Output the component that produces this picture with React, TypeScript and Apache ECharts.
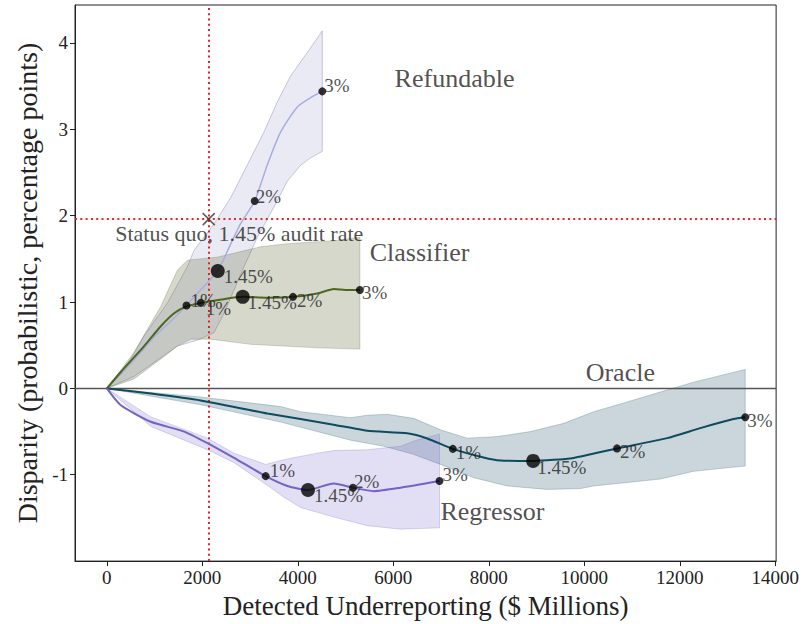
import React, { useEffect, useRef } from "react";
import * as echarts from "echarts";

// ---- data ----
const xTicks = [0, 2000, 4000, 6000, 8000, 10000, 12000, 14000];
const yTicks = [-1, 0, 1, 2, 3, 4];
const pointLabels = ["1%", "1.45%", "2%", "3%"];
const seriesNames = ["Refundable", "Classifier", "Oracle", "Regressor"];

const refundableLine = [[0, 0], [300, 0.17], [600, 0.35], [1000, 0.6], [1400, 0.81], [1668, 0.96], [2000, 1.16], [2323, 1.36], [2600, 1.68], [2804, 1.91], [3097, 2.17], [3362, 2.59], [3641, 2.97], [3990, 3.26], [4338, 3.39], [4513, 3.44]];
const refundableUpper = [[0, 0], [500, 0.34], [781, 0.61], [1270, 0.99], [1688, 1.41], [1827, 1.6], [2245, 1.905], [2595, 2.21], [2944, 2.59], [3292, 2.97], [3572, 3.32], [3850, 3.62], [4198, 3.89], [4513, 4.14]];
const refundableLower = [[0, 0], [571, 0.14], [990, 0.3], [1478, 0.49], [1900, 0.56], [2245, 0.645], [2455, 0.87], [2664, 1.14], [2874, 1.41], [3153, 1.75], [3501, 2.1], [3781, 2.4], [4050, 2.58], [4268, 2.67], [4513, 2.745]];
const refundablePoints = [[1668, 0.96], [2323, 1.36], [3097, 2.17], [4513, 3.44]];

const classifierLine = [[0, 0], [293, 0.19], [781, 0.49], [1130, 0.72], [1409, 0.87], [1668, 0.95], [1967, 0.99], [2400, 1.03], [2846, 1.06], [3362, 1.05], [3899, 1.06], [4408, 1.1], [4757, 1.15], [5000, 1.14], [5300, 1.14]];
const classifierUpper = [[0, 0], [571, 0.42], [1130, 0.95], [1478, 1.37], [1688, 1.485], [2316, 1.52], [3222, 1.64], [3781, 1.676], [4757, 1.71], [5300, 1.75]];
const classifierLower = [[0, 0], [571, 0.11], [1130, 0.34], [1478, 0.49], [1758, 0.57], [2176, 0.57], [3013, 0.51], [3711, 0.49], [4408, 0.47], [5300, 0.455]];
const classifierPoints = [[1967, 0.99], [2846, 1.06], [3899, 1.06], [5300, 1.14]];

const oracleLine = [[0, 0], [921, -0.06], [1967, -0.14], [3362, -0.29], [4750, -0.42], [5455, -0.49], [6292, -0.52], [6711, -0.58], [7247, -0.7], [7889, -0.8], [8244, -0.835], [8929, -0.84], [9778, -0.805], [10686, -0.695], [11733, -0.576], [12430, -0.46], [13126, -0.355], [13371, -0.335]];
const oracleUpper = [[0, 0], [1967, -0.1], [3641, -0.21], [4059, -0.27], [5106, -0.34], [5455, -0.31], [5873, -0.3], [6431, -0.347], [6989, -0.48], [7547, -0.576], [8175, -0.558], [8872, -0.5], [9569, -0.405], [10197, -0.27], [10895, -0.157], [11592, -0.042], [12290, 0.072], [12988, 0.168], [13371, 0.22]];
const oracleLower = [[0, 0], [1967, -0.19], [3641, -0.39], [5106, -0.6], [5803, -0.67], [6400, -0.76], [6989, -0.88], [7686, -1.034], [8384, -1.13], [9221, -1.17], [9918, -1.16], [10197, -1.13], [10895, -1.09], [11592, -1.05], [12290, -0.96], [12988, -0.92], [13371, -0.9]];
const oraclePoints = [[7247, -0.7], [8929, -0.84], [10686, -0.695], [13371, -0.335]];

const regressorLine = [[0, 0], [293, -0.195], [921, -0.386], [1618, -0.5], [2107, -0.634], [2664, -0.805], [3327, -1.016], [3781, -1.13], [4213, -1.176], [4757, -1.1], [5154, -1.15], [5594, -1.19], [6152, -1.15], [6968, -1.073]];
const regressorUpper = [[0, 0], [921, -0.33], [2107, -0.576], [2664, -0.75], [3327, -0.88], [3710, -0.825], [4059, -0.787], [4408, -0.75], [4757, -0.72], [5455, -0.71], [6152, -0.67], [6501, -0.596], [6968, -0.53]];
const regressorLower = [[0, 0], [921, -0.44], [2107, -0.71], [2664, -0.86], [3327, -1.11], [3710, -1.26], [4059, -1.38], [4757, -1.49], [5455, -1.59], [6152, -1.63], [6968, -1.615]];
const regressorPoints = [[3327, -1.016], [4213, -1.176], [5154, -1.15], [6968, -1.073]];

const nameAnchors = [[7282, 3.585], [6550, 1.57], [10755, 0.183], [8077, -1.43]];
const statusQuo = [2134, 1.96];
const statusQuoText = "Status quo, 1.45% audit rate";

const FONT = "'Liberation Serif', 'DejaVu Serif', serif";

function band(upper: number[][], lower: number[][], fill: string, stroke: string, z: number) {
  return {
    type: "custom",
    silent: true,
    clip: true,
    z,
    data: [[upper[0][0], upper[0][1]]],
    renderItem: (_p: any, api: any) => {
      const pts = upper.map((p) => api.coord(p)).concat(lower.slice().reverse().map((p) => api.coord(p)));
      return { type: "polygon", shape: { points: pts }, style: { fill, stroke, lineWidth: 0.8 } };
    },
  };
}

function line(data: number[][], color: string, width: number) {
  return {
    type: "line",
    data,
    showSymbol: false,
    smooth: 0.2,
    z: 5,
    silent: true,
    lineStyle: { color, width },
  };
}

function dots(points: number[][], offsets: number[][]) {
  return {
    type: "scatter",
    z: 8,
    silent: true,
    data: points.map((p, i) => ({
      value: p,
      symbolSize: i === 1 ? 14 : 8,
      label: {
        show: true,
        formatter: pointLabels[i],
        position: "right",
        distance: 0,
        offset: offsets[i],
      },
    })),
    itemStyle: { color: "#000" },
    label: { fontFamily: FONT, fontSize: 19, color: "#222", align: "left", verticalAlign: "middle" },
  };
}

export default function App() {
  const ref = useRef<HTMLDivElement>(null);
  useEffect(() => {
    if (!ref.current) return;
    const chart = echarts.init(ref.current, null, { renderer: "svg" });
    const option: any = {
      animation: false,
      backgroundColor: "#fff",
      grid: { left: 75, right: 25, top: 5, bottom: 56, show: true, borderColor: "#222", borderWidth: 1, backgroundColor: "transparent" },
      xAxis: {
        type: "value",
        min: -667,
        max: 14018,
        name: "Detected Underreporting ($ Millions)",
        nameLocation: "middle",
        nameGap: 26,
        nameTextStyle: { fontFamily: FONT, fontSize: 27, color: "#222" },
        axisLine: { show: true, onZero: false, lineStyle: { color: "#222", width: 1 } },
        axisTick: { show: true, length: 5, customValues: xTicks, lineStyle: { color: "#222" } },
        axisLabel: { customValues: xTicks, formatter: (v: number) => String(v), fontFamily: FONT, fontSize: 19, color: "#222", margin: 7 },
        splitLine: { show: false },
      },
      yAxis: {
        type: "value",
        min: -2.0,
        max: 4.44,
        name: "Disparity (probabilistic, percentage points)",
        nameLocation: "middle",
        nameGap: 30,
        nameTextStyle: { fontFamily: FONT, fontSize: 28, color: "#222" },
        axisLine: { show: true, onZero: false, lineStyle: { color: "#222", width: 1 } },
        axisTick: { show: true, length: 5, customValues: yTicks, lineStyle: { color: "#222" } },
        axisLabel: { customValues: yTicks, formatter: (v: number) => String(v), fontFamily: FONT, fontSize: 19, color: "#222", margin: 7 },
        splitLine: { show: false },
      },
      series: [
        band(refundableUpper, refundableLower, "rgba(140,140,200,0.18)", "rgba(110,110,150,0.45)", 1),
        band(classifierUpper, classifierLower, "rgba(85,90,40,0.24)", "rgba(85,90,40,0.3)", 1),
        band(oracleUpper, oracleLower, "rgba(30,80,100,0.236)", "rgba(30,80,100,0.3)", 1),
        band(regressorUpper, regressorLower, "rgba(110,90,200,0.2)", "rgba(110,90,200,0.3)", 1),
        {
          type: "line",
          data: [],
          silent: true,
          z: 3,
          markLine: {
            silent: true,
            symbol: "none",
            label: { show: false },
            data: [
              { yAxis: 0, lineStyle: { color: "#555", width: 1.3, type: "solid" } },
              { xAxis: statusQuo[0], lineStyle: { color: "#e8202a", width: 2, type: [2, 3.3] } },
              { yAxis: statusQuo[1], lineStyle: { color: "#e8202a", width: 2, type: [2, 3.3] } },
            ],
          },
        },
        line(refundableLine, "#a6aee0", 1.5),
        line(classifierLine, "#4f6623", 2),
        line(oracleLine, "#0e4b5f", 2),
        line(regressorLine, "#7463c4", 2),
        dots(refundablePoints, [[0, -5], [-1, 6], [-3, -5], [-2, -6]]),
        dots(classifierPoints, [[1, 6], [-2, 6], [0, 4], [-2, 3]]),
        dots(oraclePoints, [[-1, 4], [-3, 7], [-1, 3], [-2, 3]]),
        dots(regressorPoints, [[0, -6], [-1, 6], [-3, -6], [-1, -7]]),
        {
          type: "scatter",
          z: 9,
          silent: true,
          symbol: "path://M0 0L10 10M10 0L0 10",
          symbolSize: 12,
          itemStyle: { color: "none", borderColor: "#333", borderWidth: 1.5 },
          data: [statusQuo],
          label: {
            show: true,
            formatter: statusQuoText,
            position: "right",
            distance: 0,
            offset: [-102, 14],
            fontFamily: FONT,
            fontSize: 22,
            color: "#222",
          },
        },
        {
          type: "scatter",
          z: 9,
          silent: true,
          symbolSize: 1,
          itemStyle: { color: "transparent" },
          data: nameAnchors.map((p, i) => ({ value: p, name: seriesNames[i] })),
          label: {
            show: true,
            formatter: (p: any) => p.name,
            position: "inside",
            fontFamily: FONT,
            fontSize: 26,
            color: "#222",
          },
        },
      ],
    };
    chart.setOption(option);
    return () => chart.dispose();
  }, []);
  return <div ref={ref} style={{ position: "fixed", left: 0, top: 0, width: 802, height: 624, background: "#fff" }} />;
}
